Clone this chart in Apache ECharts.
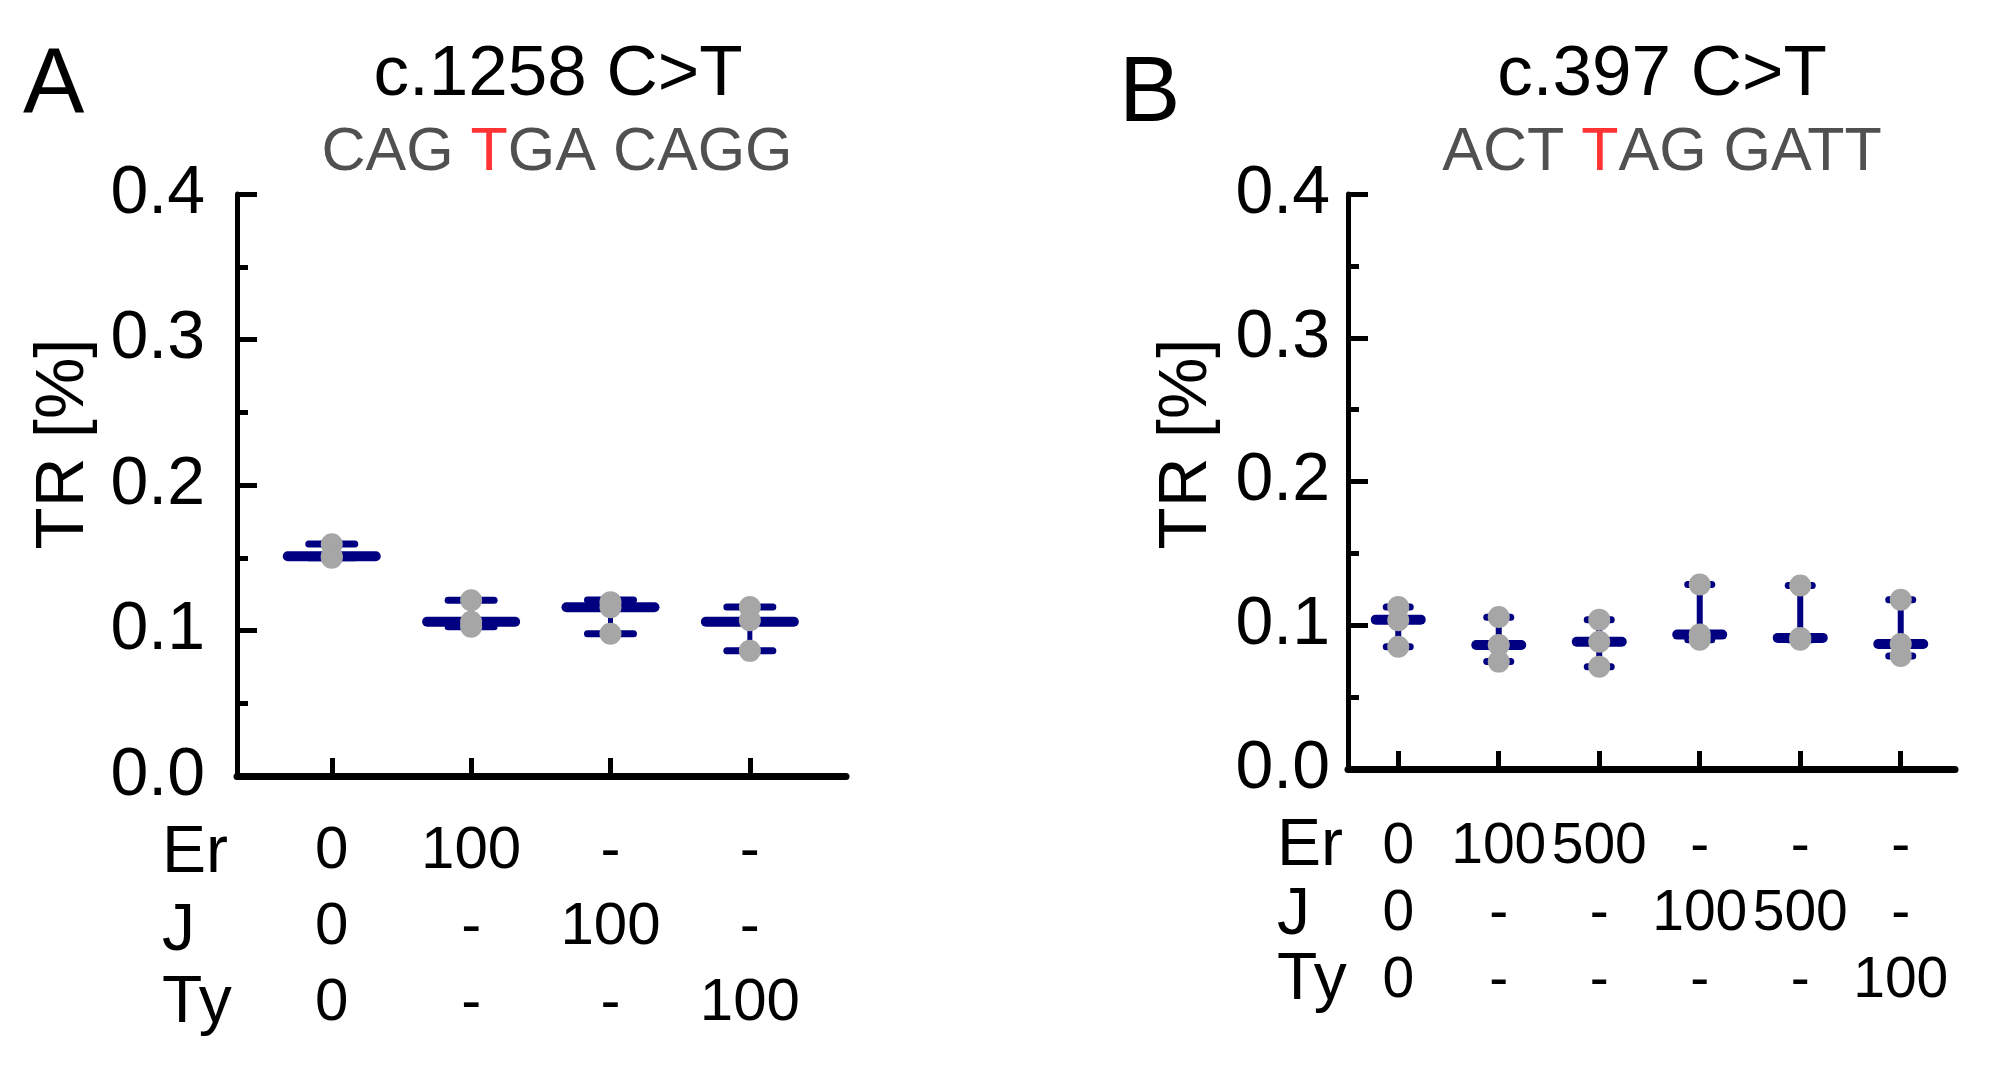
<!DOCTYPE html>
<html>
<head>
<meta charset="utf-8">
<script src="https://cdn.jsdelivr.net/npm/echarts@6/dist/echarts.min.js"></script>
<style>
  html, body { margin: 0; padding: 0; background: #fff; }
  #chart { width: 2002px; height: 1069px; }
</style>
</head>
<body>
<div id="chart"></div>
<script>
// panel A: c.1258 C>T
const titleA = 'c.1258 C>T'
const seqA = ['CAG ', 'T', 'GA CAGG']
const posA = [1, 2, 3, 4]
const erA = ['0', '100', '-', '-']
const jA = ['0', '-', '100', '-']
const tyA = ['0', '-', '-', '100']
const midA = [0.151, 0.106, 0.116, 0.106]
const loA = [0.150, 0.1026, 0.0977, 0.086]
const hiA = [0.1595, 0.1208, 0.1210, 0.1161]
const ptsA = [
  [0.1593, 0.151, 0.150],
  [0.1208, 0.106, 0.1026],
  [0.1195, 0.116, 0.0977],
  [0.1161, 0.107, 0.086],
]

// panel B: c.397 C>T
const titleB = 'c.397 C>T'
const seqB = ['ACT ', 'T', 'AG GATT']
const posB = [1, 2, 3, 4, 5, 6]
const erB = ['0', '100', '500', '-', '-', '-']
const jB = ['0', '-', '-', '100', '500', '-']
const tyB = ['0', '-', '-', '-', '-', '100']
const midB = [0.1039, 0.0862, 0.0885, 0.0935, 0.0912, 0.0869]
const loB = [0.085, 0.0747, 0.0712, 0.090, 0.090, 0.0786]
const hiB = [0.1127, 0.1055, 0.1039, 0.1283, 0.1276, 0.1177]
const ptsB = [
  [0.1127, 0.1035, 0.085],
  [0.1058, 0.0862, 0.0747],
  [0.1039, 0.0885, 0.0712],
  [0.1283, 0.0935, 0.090],
  [0.1276, 0.0912, 0.090],
  [0.1177, 0.0869, 0.0786],
]

const rowNames = ['Er', 'J', 'Ty']
const yName = 'TR [%]'

const FONT = '"Liberation Sans", Arial, sans-serif'
const NAVY = '#000080'
const DOT = '#a6a6a6'

const chart = echarts.init(document.getElementById('chart'))

const rangeRenderer = (capW, midW, barW) => (params, api) => {
  const x = api.value(0)
  const lo = api.coord([x, api.value(1)])
  const hi = api.coord([x, api.value(2)])
  const mid = api.coord([x, api.value(3)])
  const line = (x1, y1, x2, y2, w, cap) => ({
    type: 'line',
    shape: { x1, y1, x2, y2 },
    style: { stroke: NAVY, lineWidth: w, lineCap: cap },
  })
  return {
    type: 'group',
    children: [
      line(hi[0], hi[1], lo[0], lo[1], barW, 'butt'),
      line(hi[0] - capW / 2, hi[1], hi[0] + capW / 2, hi[1], 7, 'round'),
      line(lo[0] - capW / 2, lo[1], lo[0] + capW / 2, lo[1], 7, 'round'),
      line(mid[0] - midW / 2, mid[1], mid[0] + midW / 2, mid[1], 10, 'round'),
    ],
  }
}

const yAxisFor = (gridIndex, margin) => ({
  gridIndex,
  type: 'value',
  min: 0,
  max: 0.4,
  interval: 0.1,
  axisLine: { show: true, lineStyle: { color: '#000', width: 5 } },
  axisTick: { show: true, inside: true, length: 20, lineStyle: { color: '#000', width: 5 } },
  minorTick: { show: true, splitNumber: 2, length: 11, lineStyle: { color: '#000', width: 5 } },
  splitLine: { show: false },
  axisLabel: { fontSize: 68, fontFamily: FONT, color: '#000', margin, formatter: (v) => v.toFixed(1) },
})

const xAxisFor = (gridIndex, min, max, pos, er, j, ty, fontSize, lineHeight, margin) => ({
  gridIndex,
  type: 'value',
  min,
  max,
  axisLine: { show: true, onZero: false, lineStyle: { color: '#000', width: 7 } },
  axisTick: { show: true, inside: true, length: 18, customValues: pos, lineStyle: { color: '#000', width: 5 } },
  splitLine: { show: false },
  axisLabel: {
    customValues: pos,
    fontSize,
    fontFamily: FONT,
    color: '#000',
    lineHeight,
    margin,
    formatter: (v) => {
      const i = pos.indexOf(Math.round(v))
      return [er[i], j[i], ty[i]].join('\n')
    },
  },
})

const rangeData = (pos, lo, hi, mid) => pos.map((p, i) => [p, lo[i], hi[i], mid[i]])
const dotData = (pos, pts) => pos.flatMap((p, i) => pts[i].map((v) => [p, v]))

const textEl = (x, y, text, size, extra = {}, rotation = 0) => ({
  type: 'text',
  x,
  y,
  rotation,
  style: Object.assign({
    text,
    fontSize: size,
    fontFamily: FONT,
    fill: '#000',
    textAlign: 'center',
    textVerticalAlign: 'middle',
  }, extra),
})

const seqEl = (x, y, seq) => textEl(x, y, `{g|${seq[0]}}{r|${seq[1]}}{g|${seq[2]}}`, 61, {
  rich: {
    g: { fill: '#505050', fontSize: 61, fontFamily: FONT },
    r: { fill: '#ff3333', fontSize: 61, fontFamily: FONT },
  },
})

const rowLabels = (x, ys) => rowNames.map((n, i) => textEl(x, ys[i], n, 66, { textAlign: 'left' }))

chart.setOption({
  animation: false,
  grid: [
    { left: 237, top: 194, width: 609, height: 582 },
    { left: 1348, top: 194, width: 607, height: 575 },
  ],
  xAxis: [
    xAxisFor(0, 0.32, 4.69, posA, erA, jA, tyA, 60, 76, 37),
    xAxisFor(1, 0.5, 6.54, posB, erB, jB, tyB, 57, 67, 45),
  ],
  yAxis: [
    yAxisFor(0, 32),
    yAxisFor(1, 18),
  ],
  graphic: [
    textEl(23, 88, 'A', 92, { textAlign: 'left' }),
    textEl(1119, 96, 'B', 92, { textAlign: 'left' }),
    textEl(558, 75, titleA, 71),
    textEl(1662, 75, titleB, 71),
    seqEl(557, 153, seqA),
    seqEl(1662, 153, seqB),
    textEl(64, 444, yName, 69, {}, Math.PI / 2),
    textEl(1187, 444, yName, 69, {}, Math.PI / 2),
    ...rowLabels(162, [854, 932, 1004]),
    ...rowLabels(1277, [847, 916, 981]),
  ],
  series: [
    {
      type: 'custom',
      xAxisIndex: 0,
      yAxisIndex: 0,
      renderItem: rangeRenderer(46, 88, 5),
      data: rangeData(posA, loA, hiA, midA),
      z: 2,
    },
    {
      type: 'scatter',
      xAxisIndex: 0,
      yAxisIndex: 0,
      symbolSize: 22,
      itemStyle: { color: DOT, opacity: 1 },
      data: dotData(posA, ptsA),
      z: 3,
    },
    {
      type: 'custom',
      xAxisIndex: 1,
      yAxisIndex: 1,
      renderItem: rangeRenderer(24, 45, 6),
      data: rangeData(posB, loB, hiB, midB),
      z: 2,
    },
    {
      type: 'scatter',
      xAxisIndex: 1,
      yAxisIndex: 1,
      symbolSize: 22,
      itemStyle: { color: DOT, opacity: 1 },
      data: dotData(posB, ptsB),
      z: 3,
    },
  ],
})
</script>
</body>
</html>
